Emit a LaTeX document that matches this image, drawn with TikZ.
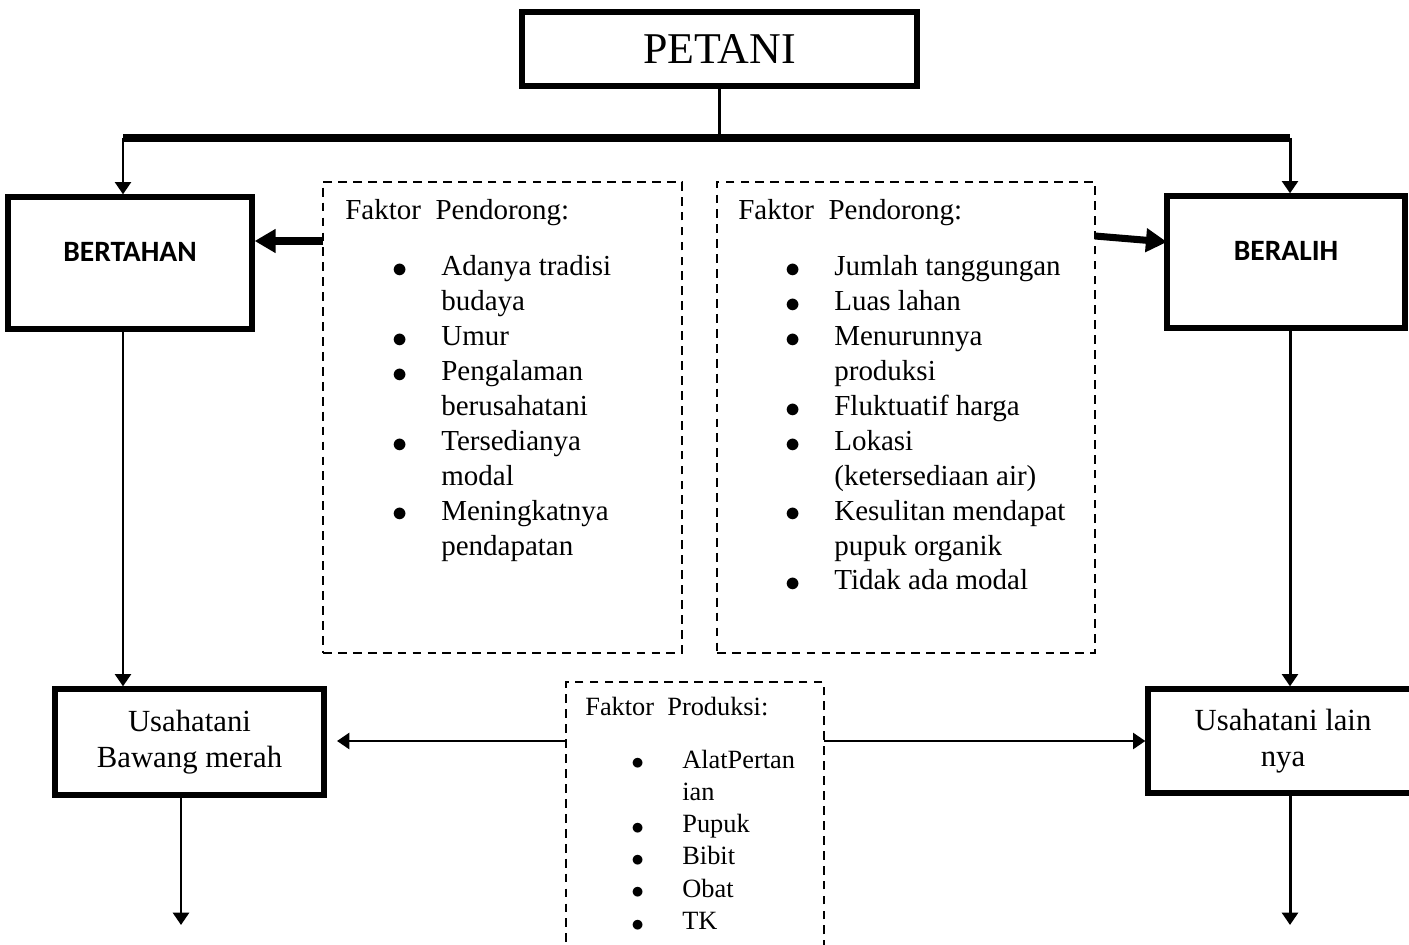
\documentclass[tikz,border=0pt]{standalone}
\usepackage{fontspec}
\usepackage{graphicx}
\setmainfont{Liberation Serif}
\newfontfamily\calibri{Carlito}
\usetikzlibrary{arrows.meta,fit}

\tikzset{
  solidbox/.style={draw, line width=3pt, inner sep=0pt},
  dashbox/.style={draw, line width=1.1pt, dash pattern=on 5pt off 3.5pt, inner sep=0pt},
  plain/.style={line width=1.7pt},
  conn/.style={line width=1.7pt, -{Triangle[length=7pt,width=9pt]}},
  fatarrow/.style={line width=4pt, -{Triangle[length=12pt,width=13pt]}},
  bar/.style={line width=4pt},
  hdrtext/.style={anchor=base west, inner sep=0pt, font=\fontsize{16.5}{19.8}\selectfont},
  listtext/.style={anchor=base west, inner sep=0pt, font=\fontsize{16.5}{19.85}\selectfont},
  smalllist/.style={anchor=base west, inner sep=0pt, font=\fontsize{15}{18.4}\selectfont},
  bigtext/.style={align=center, font=\fontsize{17.5}{20.5}\selectfont},
  tagtext/.style={font=\calibri\bfseries\fontsize{16.8}{19}\selectfont, yshift=0.22cm},
}
\newcommand\pbul{\raisebox{-0.06em}{$\bullet$}}

\begin{document}
\begin{tikzpicture}[x=0.02cm, y=-0.02cm]
  \useasboundingbox (0,0) rectangle (1409,945);

  % Top and the two choices
  \node[solidbox, fit={(522,12) (917,86)},
        label={[font=\fontsize{25}{28}\selectfont]center:PETANI}] (petani) {};
  \node[solidbox, fit={(8,197) (252,329)}, label={[tagtext]center:BERTAHAN}] (bertahan) {};
  \node[solidbox, fit={(1167,196) (1405,328)}, label={[tagtext]center:BERALIH}] (beralih) {};

  % Split bar
  \coordinate (barL) at (123,138);
  \coordinate (barR) at (1290,138);
  \draw[line width=3pt, gray!30, yshift=-0.14cm] (barL) -- (barR);
  \draw[plain] (petani.south) -- (petani.south |- barL);
  \draw[bar] (barL) -- (barR);
  \draw[conn] (barL) -- (bertahan.north -| barL);
  \draw[conn] (barR) -- (beralih.north -| barR);

  % Faktor pendorong (kiri)
  \node[dashbox, fit={(323,182) (682,653)}] (pushL) {};
  \node[hdrtext] (pushLhead) at (345,220) {Faktor\ \ Pendorong:};
  \node[listtext] (pushLlist) at (392,276) {\begin{tabular}[t]{@{}p{0.98cm}@{}l@{}}
    \pbul & Adanya tradisi\\
          & budaya\\
    \pbul & Umur\\
    \pbul & Pengalaman\\
          & berusahatani\\
    \pbul & Tersedianya\\
          & modal\\
    \pbul & Meningkatnya\\
          & pendapatan
  \end{tabular}};

  % Faktor pendorong (kanan)
  \node[dashbox, fit={(717,182) (1095,653)}] (pushR) {};
  \node[hdrtext] (pushRhead) at (738,220) {Faktor\ \ Pendorong:};
  \node[listtext] (pushRlist) at (785,276) {\begin{tabular}[t]{@{}p{0.98cm}@{}l@{}}
    \pbul & Jumlah tanggungan\\
    \pbul & Luas lahan\\
    \pbul & Menurunnya\\
          & produksi\\
    \pbul & Fluktuatif harga\\
    \pbul & Lokasi\\
          & (ketersediaan air)\\
    \pbul & Kesulitan mendapat\\
          & pupuk organik\\
    \pbul & Tidak ada modal
  \end{tabular}};

  \coordinate (pushLout) at (323,241);
  \coordinate (pushRout) at (1095,236);
  \draw[fatarrow] (pushLout) -- (bertahan.east |- pushLout);
  \draw[fatarrow] (pushRout) -- (1167,242);

  % Usahatani
  \node[solidbox, fit={(55,689) (324,795)}] (bawang) {};
  \node[bigtext] (bawangtext) at (bawang) {Usahatani\\Bawang merah};
  \node[solidbox, fit={(1148,689) (1418,793)}] (lain) {};
  \node[bigtext] (laintext) at (lain) {Usahatani lain\\nya};

  \draw[conn] (bertahan.south -| barL) -- (bawang.north -| barL);
  \draw[conn] (beralih.south -| barR) -- (lain.north -| barR);

  % Faktor produksi
  \node[dashbox, fit={(566,682) (824,960)}] (prod) {};
  \node[smalllist] (prodhead) at (585,715) {Faktor\ \ Produksi:};
  \node[smalllist] (prodlist) at (631,768) {\begin{tabular}[t]{@{}p{1.02cm}@{}l@{}}
    \pbul & AlatPertan\\
          & ian\\
    \pbul & Pupuk\\
    \pbul & Bibit\\
    \pbul & Obat\\
    \pbul & TK
  \end{tabular}};

  \coordinate (prodL) at (566,741);
  \coordinate (prodR) at (824,741);
  \draw[conn] (prodL) -- (337,741);
  \draw[conn] (prodR) -- (lain.west |- prodR);

  % Keluar
  \coordinate (bawangout) at (181,925);
  \coordinate (lainout) at (1290,925);
  \draw[conn] (bawang.south -| bawangout) -- (bawangout);
  \draw[conn] (lain.south -| lainout) -- (lainout);
\end{tikzpicture}
\end{document}
